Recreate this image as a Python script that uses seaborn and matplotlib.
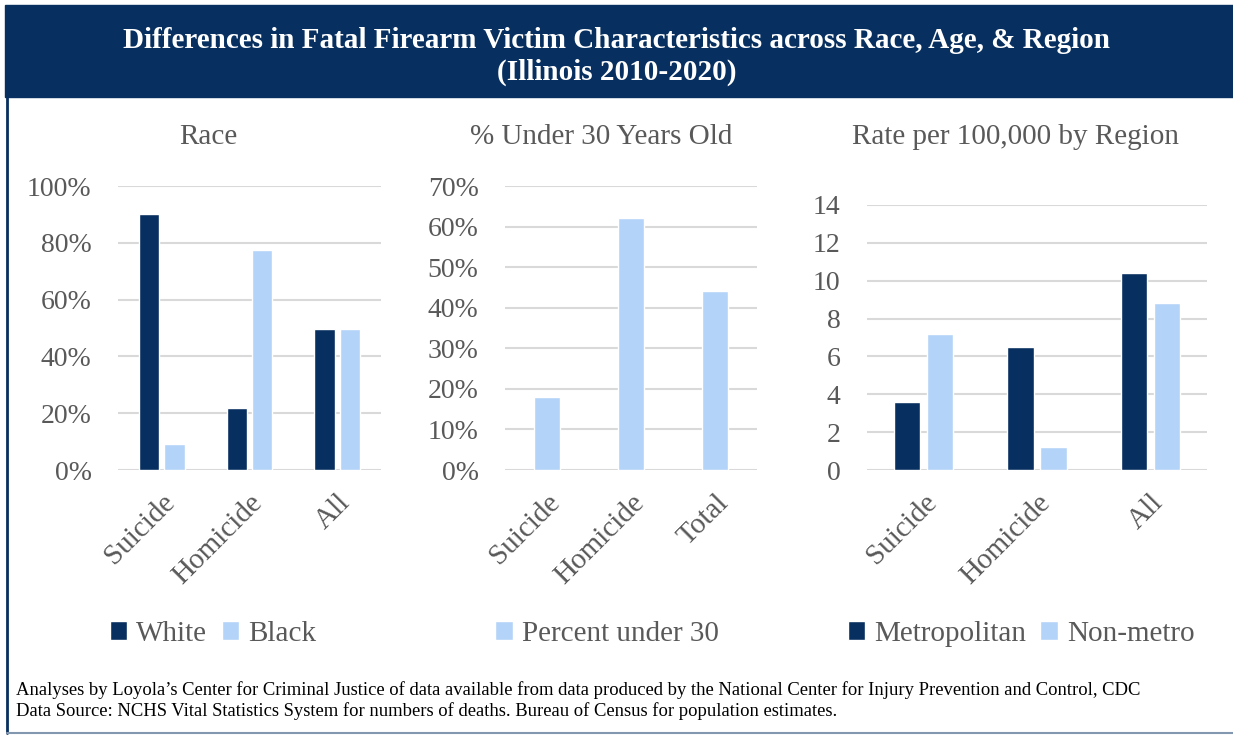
import pandas as pd
import matplotlib.pyplot as plt
import seaborn as sns
from matplotlib.ticker import PercentFormatter

# data
race_cats = ["Suicide", "Homicide", "All"]
white = [0.90, 0.22, 0.498]
black = [0.09, 0.775, 0.495]

age_cats = ["Suicide", "Homicide", "Total"]
under30 = [0.18, 0.62, 0.44]

region_cats = ["Suicide", "Homicide", "All"]
metro = [3.6, 6.5, 10.4]
nonmetro = [7.2, 1.2, 8.8]

NAVY = "#072f5f"
LIGHT = "#b3d3f8"
GRAY = "#595959"

sns.set_theme(style="white")
plt.rcParams["font.family"] = ["Liberation Serif", "DejaVu Serif"]

fig = plt.figure(figsize=(12.33, 7.36), dpi=100)
W, H = 1233, 736


def px_axes(x0, x1, ytop, ybot):
    return fig.add_axes([x0 / W, 1 - ybot / H, (x1 - x0) / W, (ybot - ytop) / H])


def style(ax, ymax, ticks):
    ax.set_ylim(0, ymax)
    ax.set_yticks(ticks)
    ax.yaxis.grid(True, color="#d9d9d9", linewidth=1.5)
    ax.set_axisbelow(True)
    sns.despine(ax=ax, left=True, bottom=True)
    ax.tick_params(axis="y", length=0, labelsize=20, labelcolor=GRAY, pad=19)
    ax.tick_params(axis="x", length=0, labelsize=21, labelcolor=GRAY, pad=14)
    ax.set_xlabel("")
    ax.set_ylabel("")
    for lab in ax.get_xticklabels():
        lab.set_rotation(45)
        lab.set_ha("right")
        lab.set_rotation_mode("anchor")


# banner and frame
fig.patches.append(plt.Rectangle((5 / W, 1 - 97 / H), 1 - 5 / W, 92 / H,
                                 transform=fig.transFigure, color=NAVY, zorder=0))
fig.add_artist(plt.Line2D([7 / W, 7 / W], [1 - 97 / H, 1 - 733 / H],
                          transform=fig.transFigure, color=NAVY, linewidth=2))
fig.add_artist(plt.Line2D([7 / W, 1], [1 - 733 / H, 1 - 733 / H],
                          transform=fig.transFigure, color="#8497b0", linewidth=1.5))
fig.text(0.5, 1 - 40 / H, "Differences in Fatal Firearm Victim Characteristics across Race, Age, & Region",
         ha="center", va="center", color="white", fontsize=21, fontweight="bold")
fig.text(0.5, 1 - 72 / H, "(Illinois 2010-2020)",
         ha="center", va="center", color="white", fontsize=21, fontweight="bold")

# panel 1: race
df1 = pd.DataFrame({"cat": race_cats * 2,
                    "val": white + black,
                    "grp": ["White"] * 3 + ["Black"] * 3})
ax1 = px_axes(118, 381, 186, 470)
sns.barplot(data=df1, x="cat", y="val", hue="grp", palette=[NAVY, LIGHT],
            width=0.58, gap=0.2, saturation=1, ax=ax1)
style(ax1, 1.0, [0, 0.2, 0.4, 0.6, 0.8, 1.0])
ax1.yaxis.set_major_formatter(PercentFormatter(1.0, decimals=0))
h1, l1 = ax1.get_legend_handles_labels()
ax1.legend_.remove()

# panel 2: under 30
df2 = pd.DataFrame({"cat": age_cats, "val": under30,
                    "grp": ["Percent under 30"] * 3})
ax2 = px_axes(505, 757, 186, 470)
sns.barplot(data=df2, x="cat", y="val", hue="grp", palette=[LIGHT],
            width=0.32, saturation=1, ax=ax2)
style(ax2, 0.7, [0, 0.1, 0.2, 0.3, 0.4, 0.5, 0.6, 0.7])
ax2.yaxis.set_major_formatter(PercentFormatter(1.0, decimals=0))
h2, l2 = ax2.get_legend_handles_labels()
ax2.legend_.remove()

# panel 3: region
df3 = pd.DataFrame({"cat": region_cats * 2,
                    "val": metro + nonmetro,
                    "grp": ["Metropolitan"] * 3 + ["Non-metro"] * 3})
ax3 = px_axes(867, 1207, 205, 470)
sns.barplot(data=df3, x="cat", y="val", hue="grp", palette=[NAVY, LIGHT],
            width=0.58, gap=0.2, saturation=1, ax=ax3)
style(ax3, 14, [0, 2, 4, 6, 8, 10, 12, 14])
h3, l3 = ax3.get_legend_handles_labels()
ax3.legend_.remove()

# panel titles
fig.text(208 / W, 1 - 137 / H, "Race", ha="center", va="center", fontsize=21, color=GRAY)
fig.text(601 / W, 1 - 137 / H, "% Under 30 Years Old", ha="center", va="center", fontsize=21, color=GRAY)
fig.text(1015 / W, 1 - 137 / H, "Rate per 100,000 by Region", ha="center", va="center", fontsize=21, color=GRAY)

# legends
for hh, ll, cx in [(h1, l1, 213), (h2, l2, 607), (h3, l3, 1021)]:
    fig.legend(hh, ll, loc="center", bbox_to_anchor=(cx / W, 1 - 634 / H), ncol=len(ll),
               frameon=False, fontsize=21, labelcolor=GRAY, handlelength=0.6,
               handleheight=0.6, handletextpad=0.3, columnspacing=0.5)

# footer
fig.text(16 / W, 1 - 690 / H,
         "Analyses by Loyola\u2019s Center for Criminal Justice of data available from data produced by the National Center for Injury Prevention and Control, CDC",
         ha="left", va="center", fontsize=13.4, color="black")
fig.text(16 / W, 1 - 711 / H,
         "Data Source: NCHS Vital Statistics System for numbers of deaths. Bureau of Census for population estimates.",
         ha="left", va="center", fontsize=13.4, color="black")

fig.savefig("out.png", dpi=100)
